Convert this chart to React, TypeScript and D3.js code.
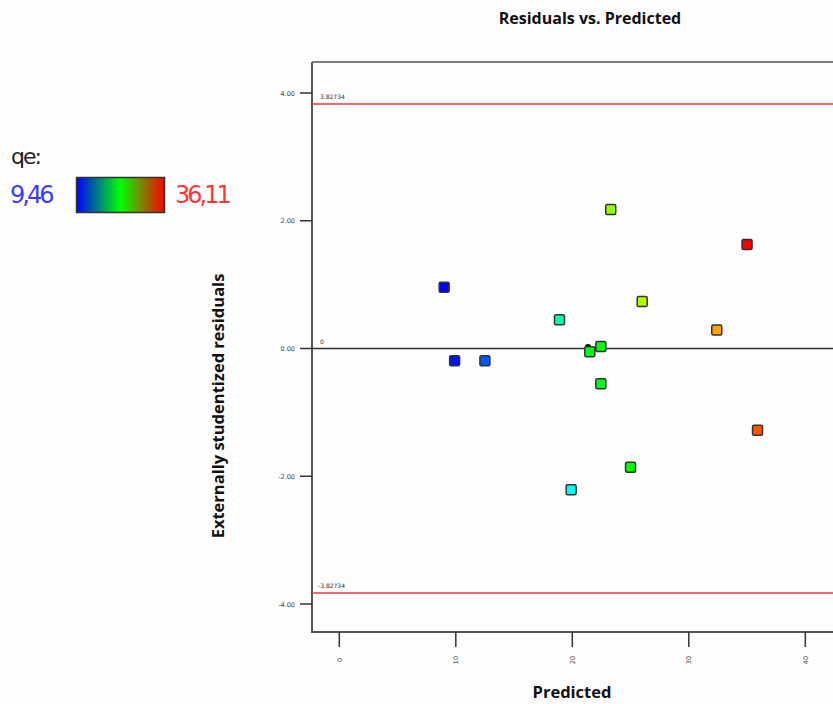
import React from "react";
import * as d3 from "d3";

const title = "Residuals vs. Predicted";
const xLabel = "Predicted";
const yLabel = "Externally studentized residuals";
const legendTitle = "qe:";
const qeMinLabel = "9,46";
const qeMaxLabel = "36,11";
const qeMin = 9.46;
const qeMax = 36.11;

const predicted = [9.0, 9.9, 12.5, 18.9, 19.9, 21.5, 22.45, 22.45, 23.3, 25.0, 26.0, 32.4, 35.0, 35.9];
const residuals = [0.96, -0.19, -0.19, 0.45, -2.21, -0.05, 0.03, -0.55, 2.175, -1.86, 0.735, 0.29, 1.63, -1.28];
const qeValues = [9.46, 9.9, 11.7, 18.3, 16.4, 22.3, 22.5, 22.0, 26.7, 22.8, 27.3, 31.9, 36.11, 33.9];

const overlapDotX = [21.35];
const overlapDotY = [0.02];

const xTicks = [0, 10, 20, 30, 40];
const yTicks = [4, 2, 0, -2, -4];
const yTickLabels = ["4.00", "2.00", "0.00", "-2.00", "-4.00"];
const limit = 3.82734;
const limitLabels = ["3.82734", "-3.82734"];

export default function App() {
  const W = 833, H = 704;
  const frameLeft = 312, frameTop = 62, frameBottom = 632;
  const x = d3.scaleLinear().domain([0, 40]).range([339.3, 805.3]);
  const y = d3.scaleLinear().domain([-4, 4]).range([604, 93]);
  const mid = (qeMin + qeMax) / 2;
  const color = d3
    .scaleLinear<string>()
    .domain([qeMin, mid, qeMax])
    .range(["#0000ff", "#00ff00", "#ff0000"])
    .interpolate(d3.interpolateHsl);

  const sq = 10;
  const tickFont = "DejaVu Sans, sans-serif";
  const boldFont = "Open Sans, sans-serif";

  return (
    <svg width={W} height={H} style={{ position: "absolute", left: 0, top: 0, background: "#fff" }}>
      <defs>
        <linearGradient id="qegrad" x1="0" x2="1" y1="0" y2="0">
          <stop offset="0" stopColor="#0000ff" />
          <stop offset="0.5" stopColor="#00ff00" />
          <stop offset="1" stopColor="#ff0000" />
        </linearGradient>
      </defs>
      <rect x={0} y={0} width={W} height={H} fill="#fdfdfd" />
      {/* title */}
      <text x={590} y={24} textAnchor="middle" fontFamily={boldFont} fontWeight="bold" fontSize={16} fill="#111">
        {title}
      </text>
      {/* legend */}
      <text x={11} y={164} fontFamily={tickFont} fontSize={22} letterSpacing={-2} fill="#222">
        {legendTitle}
      </text>
      <text x={10} y={203} fontFamily={tickFont} fontSize={24} letterSpacing={-3} fill="#3b3bff">
        {qeMinLabel}
      </text>
      <rect x={76.5} y={177.5} width={88} height={35} fill="url(#qegrad)" stroke="#333" strokeWidth={1.5} />
      <text x={175} y={203} fontFamily={tickFont} fontSize={24} letterSpacing={-3} fill="#ff3535">
        {qeMaxLabel}
      </text>

      {/* frame */}
      <path
        d={`M${frameLeft},${frameTop} L${frameLeft},${frameBottom} L${W + 10},${frameBottom}`}
        fill="none"
        stroke="#555"
        strokeWidth={2}
      />
      <line x1={frameLeft} x2={W + 10} y1={frameTop} y2={frameTop} stroke="#555" strokeWidth={1.5} />

      {/* y ticks */}
      {yTicks.map((t, i) => (
        <g key={"yt" + i}>
          <line x1={300} x2={frameLeft} y1={y(t)} y2={y(t)} stroke="#333" strokeWidth={1.5} />
          <text x={295} y={y(t) + 2.5} textAnchor="end" fontFamily={tickFont} fontSize={6.5} fill="#444">
            {yTickLabels[i]}
          </text>
        </g>
      ))}
      {/* x ticks */}
      {xTicks.map((t, i) => (
        <g key={"xt" + i}>
          <line x1={x(t)} x2={x(t)} y1={frameBottom} y2={647} stroke="#333" strokeWidth={1.5} />
          <text
            transform={`translate(${x(t) + 2.5},${660}) rotate(-90)`}
            textAnchor="middle"
            fontFamily={tickFont}
            fontSize={6.5}
            fill="#444"
          >
            {t}
          </text>
        </g>
      ))}

      {/* reference lines */}
      <line x1={frameLeft} x2={W + 10} y1={y(limit)} y2={y(limit)} stroke="#e8393d" strokeWidth={1.5} />
      <line x1={frameLeft} x2={W + 10} y1={y(-limit)} y2={y(-limit)} stroke="#e8393d" strokeWidth={1.5} />
      <line x1={frameLeft} x2={W + 10} y1={y(0)} y2={y(0)} stroke="#333" strokeWidth={1.5} />
      <text x={320} y={y(limit) - 5} fontFamily={tickFont} fontSize={6} fill="#333">
        {limitLabels[0]}
      </text>
      <text x={318} y={y(-limit) - 5} fontFamily={tickFont} fontSize={6} fill="#333">
        {limitLabels[1]}
      </text>
      <text x={320} y={y(0) - 5} fontFamily={tickFont} fontSize={6} fill="#333">
        0
      </text>

      {/* overlap dot */}
      {overlapDotX.map((v, i) => (
        <circle key={"od" + i} cx={x(v)} cy={y(overlapDotY[i])} r={3.2} fill="#111" />
      ))}
      {/* points */}
      {predicted.map((p, i) => (
        <rect
          key={"p" + i}
          x={x(p) - sq / 2}
          y={y(residuals[i]) - sq / 2}
          width={sq}
          height={sq}
          rx={1.5}
          fill={color(qeValues[i])}
          stroke="#333"
          strokeWidth={1.5}
        />
      ))}

      {/* axis labels */}
      <text x={572} y={698} textAnchor="middle" fontFamily={boldFont} fontWeight="bold" fontSize={16.5} fill="#111">
        {xLabel}
      </text>
      <text
        transform={`translate(224,${406}) rotate(-90)`}
        textAnchor="middle"
        fontFamily={boldFont}
        fontWeight="bold"
        fontSize={16.5}
        fill="#111"
      >
        {yLabel}
      </text>
    </svg>
  );
}
